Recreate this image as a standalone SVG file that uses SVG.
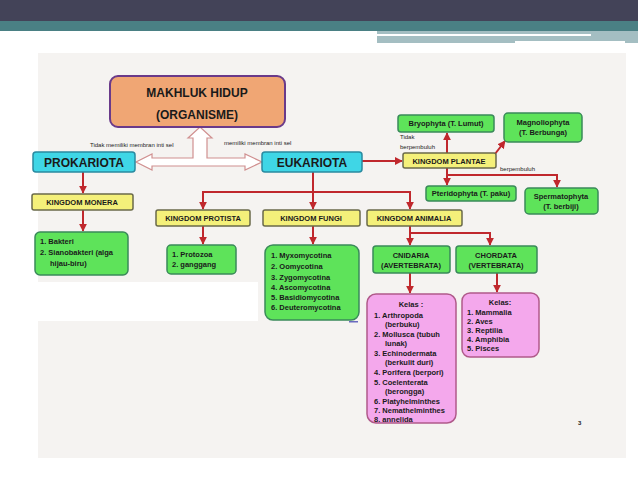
<svg xmlns="http://www.w3.org/2000/svg" width="638" height="479" viewBox="0 0 638 479">
<defs>
<marker id="ar" viewBox="0 0 10 10" refX="9" refY="5" markerWidth="4" markerHeight="4" orient="auto"><path d="M0,0L10,5L0,10z" fill="#c0282d"/></marker>
<style>
text{font-family:"Liberation Sans",Arial,sans-serif;font-weight:bold;fill:#1a1a1a}
.g{fill:#5ee35a;stroke:#3a8a5a;stroke-width:1.5}
.y{fill:#f4f07a;stroke:#6a6a4a;stroke-width:1.5}
.c{fill:#3fd6e6;stroke:#2a8aa0;stroke-width:1.5}
.p{fill:#f4a8ec;stroke:#b05a8a;stroke-width:1.5}
.l{stroke:#c0282d;stroke-width:2;fill:none}
.s{font-size:7.5px}
.t{font-size:6px;font-weight:normal}
</style>
</defs>
<rect width="638" height="479" fill="#ffffff"/>
<rect width="638" height="21" fill="#434358"/>
<rect y="21" width="638" height="10" fill="#4a8084"/>
<rect x="377" y="31" width="261" height="12" fill="#a4bec2"/>
<rect x="377" y="34" width="214" height="2" fill="#ffffff"/>
<rect x="515" y="41" width="110" height="3" fill="#ffffff"/>
<rect x="38" y="53" width="588" height="405" fill="#f5f3f1"/>
<rect x="25" y="282" width="233" height="39" fill="#ffffff"/>

<g id="connectors">
<path d="M193,152 V138 H188 L200,127 L212,138 H207 V158 H245 V154 L262,162 L245,170 V166 H152 V170 L136,162 L152,154 V158 H193 Z" fill="#ffffff" stroke="#d09090" stroke-width="1.2"/>
<path class="l" d="M83,172 V193" marker-end="url(#ar)"/>
<path class="l" d="M83,210 V231" marker-end="url(#ar)"/>
<path class="l" d="M313,172 V209"/>
<path class="l" d="M203,209 V192 H410 V209" marker-end="url(#ar)"/>
<path class="l" d="M203,192 V209" marker-end="url(#ar)"/>
<path class="l" d="M313,192 V209" marker-end="url(#ar)"/>
<path class="l" d="M203,226 V244" marker-end="url(#ar)"/>
<path class="l" d="M313,226 V244" marker-end="url(#ar)"/>
<path class="l" d="M410,226 V233 H490 V245" marker-end="url(#ar)"/>
<path class="l" d="M410,233 V245" marker-end="url(#ar)"/>
<path class="l" d="M410,273 V293" marker-end="url(#ar)"/>
<path class="l" d="M497,273 V292" marker-end="url(#ar)"/>
<path class="l" d="M362,161 H402" marker-end="url(#ar)"/>
<path class="l" d="M447,153 V133" marker-end="url(#ar)"/>
<path class="l" d="M495,154 L505,141" marker-end="url(#ar)"/>
<path class="l" d="M447,168 V185" marker-end="url(#ar)"/>
<path class="l" d="M447,175 H557 V187" marker-end="url(#ar)"/>
<text class="t" x="90" y="147">Tidak memiliki membran inti sel</text>
<text class="t" x="224" y="145">memiliki membran inti sel</text>
<text class="t" x="400" y="139">Tidak</text>
<text class="t" x="400" y="149">berpembuluh</text>
<text class="t" x="500" y="171">berpembuluh</text>
</g>

<g id="organisme"><rect x="110" y="76" width="175" height="51" rx="8" fill="#f0a674" stroke="#6a3a8a" stroke-width="2"/>
<text x="197" y="97" font-size="12" text-anchor="middle">MAKHLUK HIDUP</text>
<text x="197" y="119" font-size="12" text-anchor="middle">(ORGANISME)</text></g>
<g id="prokariota"><rect class="c" x="33" y="152" width="102" height="20" rx="3"/><text x="84" y="167" font-size="12" text-anchor="middle">PROKARIOTA</text></g>
<g id="eukariota"><rect class="c" x="262" y="152" width="100" height="20" rx="3"/><text x="312" y="167" font-size="12" text-anchor="middle">EUKARIOTA</text></g>
<g id="monera"><rect class="y" x="32" y="194" width="101" height="16" rx="2"/><text class="s" x="82" y="205" font-size="6.5" text-anchor="middle">KINGDOM MONERA</text></g>
<g id="monera-list"><rect class="g" x="35" y="232" width="93" height="43" rx="5"/>
<text class="s" x="40" y="244">1.  Bakteri</text><text class="s" x="40" y="255">2.  Sianobakteri (alga</text><text class="s" x="50" y="266">hijau-biru)</text></g>
<g id="protista"><rect class="y" x="156" y="210" width="94" height="16" rx="2"/><text class="s" x="203" y="221" text-anchor="middle">KINGDOM PROTISTA</text></g>
<g id="fungi"><rect class="y" x="263" y="210" width="97" height="16" rx="2"/><text class="s" x="311" y="221" text-anchor="middle">KINGDOM FUNGI</text></g>
<g id="animalia"><rect class="y" x="367" y="210" width="95" height="16" rx="2"/><text class="s" x="414" y="221" text-anchor="middle">KINGDOM ANIMALIA</text></g>
<g id="protista-list"><rect class="g" x="167" y="245" width="69" height="29" rx="4"/>
<text class="s" x="172" y="257">1.  Protozoa</text><text class="s" x="172" y="267">2.  ganggang</text></g>
<g id="fungi-list"><rect class="g" x="265" y="245" width="94" height="75" rx="8"/>
<text class="s" x="271" y="258">1.  Myxomycotina</text><text class="s" x="271" y="269">2.  Oomycotina</text><text class="s" x="271" y="280">3.  Zygomycotina</text><text class="s" x="271" y="290">4.  Ascomycotina</text><text class="s" x="271" y="300">5.  Basidiomycotina</text><text class="s" x="271" y="310">6.  Deuteromycotina</text></g>
<g id="cnidaria"><rect class="g" x="373" y="246" width="77" height="27" rx="3"/>
<text class="s" x="411" y="258" text-anchor="middle">CNIDARIA</text><text class="s" x="411" y="268" text-anchor="middle">(AVERTEBRATA)</text></g>
<g id="chordata"><rect class="g" x="456" y="246" width="81" height="27" rx="3"/>
<text class="s" x="496" y="258" text-anchor="middle">CHORDATA</text><text class="s" x="496" y="268" text-anchor="middle">(VERTEBRATA)</text></g>
<g id="cnidaria-kelas"><rect class="p" x="367" y="294" width="89" height="129" rx="9"/>
<text class="s" x="411" y="307" text-anchor="middle">Kelas :</text>
<text class="s" x="374" y="318">1.  Arthropoda</text><text class="s" x="385" y="327">(berbuku)</text>
<text class="s" x="374" y="337">2.  Mollusca (tubuh</text><text class="s" x="385" y="346">lunak)</text>
<text class="s" x="374" y="356">3.  Echinodermata</text><text class="s" x="385" y="365">(berkulit duri)</text>
<text class="s" x="374" y="375">4.  Porifera (berpori)</text>
<text class="s" x="374" y="385">5.  Coelenterata</text><text class="s" x="385" y="394">(berongga)</text>
<text class="s" x="374" y="404">6.  Platyhelminthes</text>
<text class="s" x="374" y="413">7.  Nemathelminthes</text>
<text class="s" x="374" y="423" dy="-1">8.  annelida</text></g>
<g id="chordata-kelas"><rect class="p" x="462" y="293" width="77" height="64" rx="8"/>
<text class="s" x="500" y="305" text-anchor="middle">Kelas:</text>
<text class="s" x="467" y="315">1.  Mammalia</text><text class="s" x="467" y="324">2.  Aves</text><text class="s" x="467" y="333">3.  Reptilia</text><text class="s" x="467" y="342">4.  Amphibia</text><text class="s" x="467" y="351">5.  Pisces</text></g>
<g id="plantae"><rect class="y" x="403" y="153" width="93" height="15" rx="2"/><text class="s" x="449" y="164" text-anchor="middle">KINGDOM PLANTAE</text></g>
<g id="bryophyta"><rect class="g" x="398" y="115" width="96" height="17" rx="3"/><text class="s" x="446" y="126" text-anchor="middle">Bryophyta (T. Lumut)</text></g>
<g id="magnoliophyta"><rect class="g" x="504" y="113" width="78" height="29" rx="4"/>
<text class="s" x="543" y="125" text-anchor="middle">Magnoliophyta</text><text class="s" x="543" y="135" text-anchor="middle">(T. Berbunga)</text></g>
<g id="pteridophyta"><rect class="g" x="426" y="186" width="90" height="15" rx="3"/><text class="s" x="471" y="196" text-anchor="middle">Pteridophyta (T. paku)</text></g>
<g id="spermatophyta"><rect class="g" x="525" y="188" width="73" height="26" rx="4"/>
<text class="s" x="561" y="199" text-anchor="middle">Spermatophyta</text><text class="s" x="561" y="209" text-anchor="middle">(T. berbiji)</text></g>
<rect x="349" y="321" width="9" height="1.5" fill="#6a6ac0"/>
<text x="578" y="425" font-size="6" font-weight="normal" fill="#888">3</text>
</svg>
